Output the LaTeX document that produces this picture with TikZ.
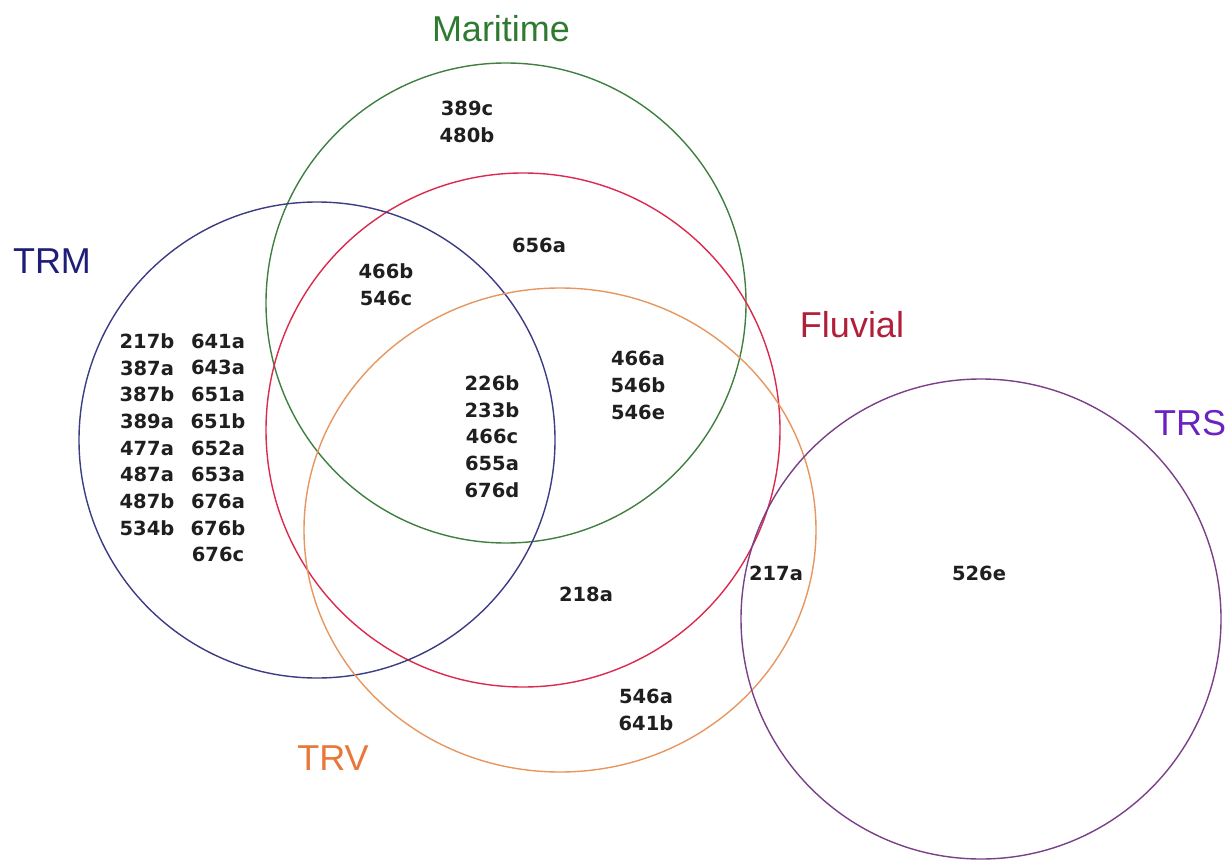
\documentclass[tikz,border=0pt]{standalone}
\usepackage{fontspec}
\setmainfont{Liberation Sans}
\newfontfamily\numfont{DejaVu Sans}
\definecolor{marC}{HTML}{3F8040}
\definecolor{marT}{HTML}{2E7A30}
\definecolor{fluC}{HTML}{DC2A4E}
\definecolor{fluT}{HTML}{B0203A}
\definecolor{trmC}{HTML}{3C3C82}
\definecolor{trmT}{HTML}{1E1E78}
\definecolor{trvC}{HTML}{E6965E}
\definecolor{trvT}{HTML}{E8783A}
\definecolor{trsC}{HTML}{7A4088}
\definecolor{trsT}{HTML}{6A22C0}
\begin{document}
\begin{tikzpicture}[x=1pt,y=-1pt,
  setline/.style={line width=1.4pt},
  setlabel/.style={font=\fontsize{36}{40}\selectfont, anchor=base, inner sep=0pt},
  nums/.style={font=\numfont\bfseries\fontsize{19.5}{26.7}\selectfont, align=center, inner sep=0pt, text=black!88}]
\useasboundingbox (0,0) rectangle (1228,861);
% sets
\draw[setline, marC] (506,303) circle [radius=240];
\draw[setline, fluC] (523,430) circle [radius=257];
\draw[setline, trmC] (317,440) circle [radius=238];
\draw[setline, trvC] (560,530) ellipse [x radius=256, y radius=242];
\draw[setline, trsC] (981,619) circle [radius=240];
% set labels
\node[setlabel, text=marT] (lmar) at (501,42) {Maritime};
\node[setlabel, text=trmT] (ltrm) at (52,273) {TRM};
\node[setlabel, text=fluT] (lflu) at (852,337) {Fluvial};
\node[setlabel, text=trsT] (ltrs) at (1190,435) {TRS};
\node[setlabel, text=trvT] (ltrv) at (333,770) {TRV};
% region contents
\node[nums] (m1) at (467,122) {389c\\480b};
\node[nums] (mf) at (539,245) {656a};
\node[nums] (tmf) at (386,285) {466b\\546c};
\node[nums] (mfv) at (638,385.5) {466a\\546b\\546e};
\node[nums] (all) at (492,436.5) {226b\\233b\\466c\\655a\\676d};
\node[nums] (fv) at (586,594) {218a};
\node[nums] (fvs) at (776,573) {217a};
\node[nums] (s) at (979,573) {526e};
\node[nums] (v) at (646,710) {546a\\641b};
\node[nums] (t1) at (147,434.5) {217b\\387a\\387b\\389a\\477a\\487a\\487b\\534b};
\node[nums] (t2) at (218,448) {641a\\643a\\651a\\651b\\652a\\653a\\676a\\676b\\676c};
\end{tikzpicture}
\end{document}
